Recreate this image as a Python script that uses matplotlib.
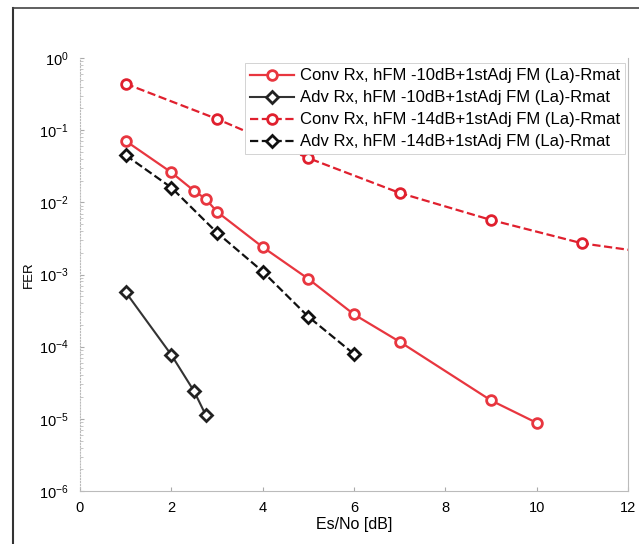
import matplotlib
matplotlib.use("Agg")
import matplotlib.pyplot as plt
from matplotlib.lines import Line2D
import numpy as np

plt.rcParams['font.family'] = ['Liberation Sans', 'DejaVu Sans']
plt.rcParams['mathtext.fontset'] = 'custom'
plt.rcParams['mathtext.rm'] = 'Liberation Sans'
plt.rcParams['mathtext.it'] = 'Liberation Sans'

# Data
x_conv10 = [1, 2, 2.5, 2.75, 3, 4, 5, 6, 7, 9, 10]
y_conv10 = [0.071, 0.026, 0.0144, 0.0112, 0.0074, 0.0024, 8.7e-4, 2.8e-4, 1.17e-4, 1.8e-5, 8.8e-6]

x_adv10 = [1, 2, 2.5, 2.75]
y_adv10 = [5.7e-4, 7.7e-5, 2.4e-5, 1.14e-5]

x_conv14 = [1, 3, 5, 7, 9, 11, 13]
y_conv14 = [0.44, 0.143, 0.041, 0.0135, 0.0057, 0.0027, 0.0018]

x_adv14 = [1, 2, 3, 4, 5, 6]
y_adv14 = [0.045, 0.016, 0.0038, 0.0011, 2.6e-4, 7.9e-5]

labels = ["Conv Rx, hFM -10dB+1stAdj FM (La)-Rmat",
          "Adv Rx, hFM -10dB+1stAdj FM (La)-Rmat",
          "Conv Rx, hFM -14dB+1stAdj FM (La)-Rmat",
          "Adv Rx, hFM -14dB+1stAdj FM (La)-Rmat"]

red = '#e8363f'
fig = plt.figure(figsize=(6.39, 5.44), dpi=100)
ax = fig.add_axes([80/639, 1-491/544, (628-80)/639, (491-58)/544])

ms = 7
ax.plot(x_conv10, y_conv10, '-', color=red, lw=1.6, marker='o', ms=ms, mfc='white', mec=red, mew=2, label=labels[0])
ax.plot(x_adv10, y_adv10, '-', color='#333333', lw=1.5, marker='D', ms=6, mfc='white', mec='#222222', mew=2, label=labels[1])
ax.plot(x_conv14, y_conv14, '--', color='#e0202e', lw=1.6, marker='o', ms=ms, mfc='white', mec='#e0202e', mew=2, label=labels[2])
ax.plot(x_adv14, y_adv14, '--', color='#111111', lw=1.6, marker='D', ms=6, mfc='white', mec='#111111', mew=2, label=labels[3])

ax.set_yscale('log')
ax.set_xlim(0, 12)
ax.set_ylim(1e-6, 1e0)
ax.set_xticks([0, 2, 4, 6, 8, 10, 12])
ax.set_yticks([1e-6, 1e-5, 1e-4, 1e-3, 1e-2, 1e-1, 1e0])
ax.tick_params(axis='both', which='major', labelsize=10.5, length=3, color='#aaaaaa', direction='in')
ax.tick_params(axis='x', which='major', pad=7)
ax.tick_params(axis='y', which='major', pad=8)
ax.tick_params(axis='y', which='minor', length=2, color='#bbbbbb', direction='in')
ax.set_xlabel('Es/No [dB]', fontsize=11.5, labelpad=2)
ax.set_ylabel('FER', fontsize=9.5)
ax.yaxis.set_label_coords(-0.083, 0.5)

for s in ['left', 'bottom', 'right']:
    ax.spines[s].set_color('#bbbbbb')
    ax.spines[s].set_linewidth(0.8)
ax.spines['left'].set_linestyle(':')
ax.spines['top'].set_visible(False)

leg = ax.legend(loc='upper right', bbox_to_anchor=(1.0, 0.995), fontsize=12, frameon=True,
                fancybox=False, edgecolor='#cccccc', handlelength=2.6, handletextpad=0.35,
                borderpad=0.3, labelspacing=0.42, framealpha=1, borderaxespad=0.2)
leg.get_frame().set_linewidth(0.6)

# scan border lines
fig.add_artist(Line2D([13/639, 13/639], [0, 1-8/544], color='#333333', lw=1.5, transform=fig.transFigure))
fig.add_artist(Line2D([13/639, 1], [1-8/544, 1-8/544], color='#444444', lw=1.2, transform=fig.transFigure))

fig.savefig('out.png', dpi=100)
